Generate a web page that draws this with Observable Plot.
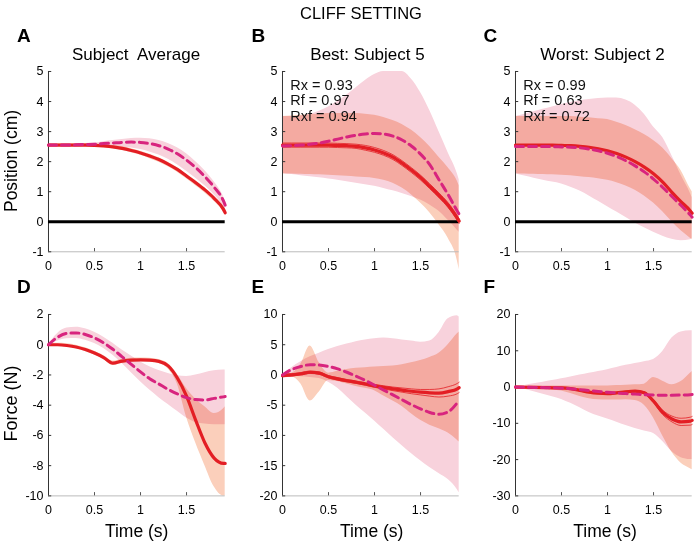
<!DOCTYPE html>
<html><head><meta charset="utf-8">
<script src="https://cdn.jsdelivr.net/npm/d3@7"></script>
<script src="https://cdn.jsdelivr.net/npm/@observablehq/plot@0.6"></script>
<style>
body{margin:0;background:#fff;}
#fig{position:relative;width:697px;height:545px;overflow:hidden;font-family:"Liberation Sans",Arial,sans-serif;background:#fff;}
#fig .panel{position:absolute;}
#fig svg g[aria-label="area"]{mix-blend-mode:multiply;}
#overlay{position:absolute;left:0;top:0;}
</style></head><body><div id="fig"></div>
<script>
// ---------- data ----------
const T = [0,0.1,0.2,0.3,0.4,0.5,0.6,0.7,0.8,0.9,1.0,1.1,1.2,1.3,1.4,1.5,1.6,1.7,1.8,1.9,1.92];
const xTicks = [0, 0.5, 1, 1.5];
const posTicks = [-1,0,1,2,3,4,5];
const dTicks = [-10,-8,-6,-4,-2,0,2];
const eTicks = [-20,-15,-10,-5,0,5,10];
const fTicks = [-30,-20,-10,0,10,20];

const title = "CLIFF SETTING";
const panelLetters = ["A","B","C","D","E","F"];
const subtitles = ["Subject  Average", "Best: Subject 5", "Worst: Subject 2"];
const yTitles = ["Position (cm)", "Force (N)"];
const xTitle = "Time (s)";
const bLabels = ["Rx = 0.93","Rf = 0.97","Rxf = 0.94"];
const cLabels = ["Rx = 0.99","Rf = 0.63","Rxf = 0.72"];

// Panel A
const aSolid  = [2.55,2.55,2.55,2.55,2.55,2.54,2.52,2.49,2.44,2.37,2.29,2.19,2.07,1.92,1.74,1.52,1.3,1.06,0.78,0.42,0.3];
const aDashed = [2.55,2.55,2.55,2.56,2.57,2.58,2.6,2.62,2.64,2.65,2.64,2.6,2.53,2.42,2.26,2.05,1.8,1.5,1.15,0.7,0.55];
const aPinkHi = [2.57,2.57,2.57,2.58,2.6,2.62,2.66,2.7,2.74,2.77,2.78,2.76,2.7,2.6,2.46,2.26,2.0,1.7,1.33,0.85,0.7];
const aPinkLo = [2.53,2.53,2.53,2.54,2.54,2.54,2.53,2.52,2.49,2.45,2.4,2.32,2.22,2.08,1.9,1.68,1.45,1.2,0.9,0.5,0.38];
const aPeachHi = [2.6,2.6,2.6,2.6,2.6,2.59,2.57,2.54,2.5,2.43,2.35,2.25,2.13,1.98,1.8,1.58,1.36,1.12,0.84,0.48,0.36];
const aPeachLo = [2.5,2.5,2.5,2.5,2.5,2.49,2.46,2.43,2.38,2.3,2.21,2.1,1.98,1.83,1.65,1.43,1.2,0.96,0.68,0.33,0.22];

// Panel B
const bSolid   = [2.55,2.55,2.55,2.55,2.55,2.55,2.54,2.53,2.51,2.46,2.39,2.29,2.15,1.95,1.72,1.47,1.18,0.88,0.55,0.12,0.02];
const bSolidHi = [2.62,2.62,2.62,2.62,2.62,2.62,2.61,2.6,2.58,2.54,2.47,2.37,2.23,2.03,1.8,1.55,1.26,0.96,0.63,0.2,0.1];
const bSolidLo = [2.48,2.48,2.48,2.48,2.48,2.48,2.47,2.46,2.44,2.38,2.31,2.21,2.07,1.87,1.64,1.39,1.1,0.8,0.47,0.04,-0.06];
const bDashed  = [2.52,2.53,2.55,2.58,2.62,2.68,2.75,2.82,2.88,2.92,2.94,2.92,2.85,2.72,2.52,2.25,1.9,1.4,0.9,0.35,0.25];
const bPinkHi  = [3.5,3.5,3.52,3.58,3.68,3.82,4.0,4.22,4.46,4.7,4.9,5.0,5.0,5.0,4.75,4.3,3.7,3.0,2.3,1.6,1.4];
const bPinkLo  = [1.6,1.57,1.53,1.5,1.46,1.42,1.38,1.33,1.28,1.23,1.18,1.11,1.03,0.94,0.84,0.72,0.56,0.35,0.05,-0.28,-0.35];
const bPeachHi = [3.5,3.52,3.54,3.56,3.58,3.6,3.6,3.6,3.6,3.58,3.54,3.47,3.37,3.24,3.05,2.8,2.5,2.15,1.8,1.35,1.2];
const bPeachLo = [1.6,1.59,1.58,1.57,1.56,1.55,1.53,1.51,1.49,1.47,1.44,1.38,1.28,1.12,0.9,0.62,0.3,-0.1,-0.55,-1.3,-1.6];

// Panel C
const cSolid   = [2.55,2.55,2.55,2.55,2.55,2.54,2.53,2.51,2.48,2.43,2.36,2.27,2.15,2.0,1.82,1.6,1.32,0.98,0.66,0.36,0.28];
const cDashed  = [2.5,2.5,2.5,2.5,2.5,2.49,2.48,2.46,2.42,2.36,2.28,2.17,2.03,1.86,1.66,1.42,1.14,0.84,0.54,0.22,0.15];
const cPinkHi  = [3.5,3.58,3.66,3.74,3.82,3.9,3.97,4.03,4.07,4.1,4.12,4.12,4.05,3.88,3.58,3.15,2.8,2.2,1.55,0.95,0.8];
const cPinkLo  = [1.6,1.52,1.45,1.38,1.32,1.26,1.15,1.02,0.86,0.68,0.5,0.32,0.14,-0.04,-0.2,-0.35,-0.48,-0.58,-0.63,-0.6,-0.55];
const cPeachHi = [3.5,3.5,3.5,3.5,3.5,3.5,3.5,3.48,3.46,3.43,3.4,3.31,3.2,3.06,2.9,2.7,2.45,2.1,1.7,1.1,1.0];
const cPeachLo = [1.6,1.59,1.58,1.57,1.56,1.55,1.53,1.5,1.47,1.43,1.38,1.3,1.19,1.05,0.86,0.62,0.33,0.0,-0.3,-0.55,-0.6];

// Panel D
const dSolid   = [0,0,-0.05,-0.15,-0.32,-0.55,-0.85,-1.22,-1.08,-1.02,-1.0,-1.02,-1.1,-1.4,-2.2,-3.4,-5.0,-6.5,-7.5,-7.85,-7.85];
const dDashed  = [0,0.5,0.75,0.78,0.68,0.45,0.12,-0.3,-0.8,-1.3,-1.8,-2.25,-2.6,-2.95,-3.25,-3.5,-3.63,-3.65,-3.55,-3.45,-3.43];
const dPinkHi  = [0,0.75,1.1,1.15,1.05,0.82,0.5,0.1,-0.35,-0.75,-1.15,-1.45,-1.7,-1.9,-2.05,-2.1,-2.0,-1.85,-1.72,-1.68,-1.68];
const dPinkLo  = [0,0.25,0.4,0.42,0.3,0.08,-0.25,-0.7,-1.25,-1.85,-2.45,-3.0,-3.5,-3.95,-4.4,-4.85,-5.15,-5.25,-5.3,-5.3,-5.3];
const dPeachHi = [0.1,0.1,0.07,-0.03,-0.2,-0.43,-0.72,-1.08,-0.97,-0.9,-0.88,-0.9,-0.98,-1.25,-1.95,-2.9,-3.6,-4.1,-4.55,-4.25,-4.1];
const dPeachLo = [-0.1,-0.1,-0.15,-0.27,-0.45,-0.68,-0.98,-1.38,-1.25,-1.15,-1.13,-1.16,-1.25,-1.6,-2.6,-4.8,-6.5,-8.0,-9.4,-10,-10];

// Panel E
const eSolid   = [-0.1,0.0,0.2,0.45,0.3,-0.3,-0.65,-0.95,-1.2,-1.5,-1.8,-2.05,-2.3,-2.5,-2.7,-2.85,-2.95,-3.0,-2.75,-2.3,-2.1];
const eSolidHi = [0.1,0.2,0.4,0.65,0.5,-0.1,-0.45,-0.75,-1.0,-1.3,-1.55,-1.8,-2.0,-2.15,-2.3,-2.4,-2.4,-2.3,-1.95,-1.4,-1.2];
const eSolidLo = [-0.3,-0.2,0.0,0.25,0.1,-0.5,-0.85,-1.15,-1.4,-1.7,-2.05,-2.3,-2.6,-2.85,-3.1,-3.3,-3.5,-3.65,-3.5,-3.1,-2.9];
const eDashed  = [0,0.9,1.4,1.7,1.65,1.4,1.0,0.45,-0.2,-0.9,-1.7,-2.5,-3.3,-4.1,-4.9,-5.6,-6.2,-6.5,-6.1,-4.6,-4.2];
const ePinkHi  = [0,1.2,2.2,3.0,3.6,4.2,4.7,5.1,5.5,5.8,6.0,6.1,6.0,5.8,5.6,5.4,5.6,7.0,9.3,9.8,9.6];
const ePinkLo  = [0,-0.2,-0.3,-0.4,-0.6,-1.2,-2.2,-3.6,-5.0,-6.3,-7.6,-9.0,-10.4,-11.7,-13.0,-14.2,-15.3,-16.3,-17.3,-19.0,-19.5];
const ePeachHi = [0.2,0.3,1.8,4.8,2.0,0.3,0.6,0.9,1.1,1.2,1.3,1.4,1.5,1.7,2.0,2.4,2.9,3.6,5.0,6.8,7.1];
const ePeachLo = [-0.2,-0.3,-1.5,-4.3,-2.8,-0.9,-1.1,-1.5,-1.9,-2.2,-2.6,-3.5,-4.3,-5.2,-6.4,-7.5,-8.3,-8.9,-9.6,-10.8,-11.1];

// Panel F
const fSolid   = [0,-0.05,-0.1,-0.15,-0.2,-0.25,-0.45,-0.9,-1.4,-1.7,-1.8,-1.6,-1.3,-1.15,-1.6,-3.9,-7.0,-8.8,-9.6,-9.4,-9.2];
const fSolidHi = [0.2,0.15,0.1,0.05,0.0,-0.05,-0.25,-0.7,-1.2,-1.5,-1.6,-1.4,-1.1,-0.95,-1.3,-3.5,-6.4,-8.0,-8.6,-8.3,-8.1];
const fSolidLo = [-0.2,-0.25,-0.3,-0.35,-0.4,-0.45,-0.65,-1.1,-1.6,-1.9,-2.0,-1.8,-1.5,-1.35,-1.9,-4.3,-7.6,-9.6,-10.6,-10.5,-10.3];
const fDashed  = [0,-0.05,-0.1,-0.15,-0.2,-0.3,-0.45,-0.7,-0.95,-1.2,-1.45,-1.65,-1.8,-1.95,-2.1,-2.2,-2.25,-2.25,-2.2,-2.1,-2.05];
const fPinkHi  = [0,0.45,0.9,1.35,1.8,2.3,2.8,3.3,3.8,4.3,4.8,5.4,6.0,6.5,7.0,7.6,9.8,13.5,15.2,15.5,15.5];
const fPinkLo  = [0,-0.6,-1.3,-2.0,-2.7,-3.4,-4.5,-5.7,-7.0,-8.0,-8.8,-9.7,-10.6,-11.4,-12.1,-12.8,-15.0,-17.8,-19.5,-20.0,-20.0];
const fPeachHi = [0.3,0.3,0.3,0.3,0.3,0.3,0.3,0.3,0.3,0.3,0.3,0.4,0.5,0.6,0.8,2.6,1.6,0.6,1.5,3.8,4.3];
const fPeachLo = [-0.3,-0.4,-0.5,-0.6,-0.8,-1.1,-1.8,-2.6,-3.2,-3.5,-3.6,-3.6,-3.5,-3.7,-5.0,-8.5,-13.5,-18.0,-21.0,-22.5,-22.8];

// ---------- styles ----------
const RED = "#e31e24", MAG = "#d8247e", PINK = "#f8d2dc", PEACH = "#fbcfbb";
const FONT = "'Liberation Sans', Arial, sans-serif";

function table(s) {
  return T.map((t, i) => ({
    t, solid: s.solid[i], dashed: s.dashed[i],
    pinkHi: s.pinkHi[i], pinkLo: s.pinkLo[i], peachHi: s.peachHi[i], peachLo: s.peachLo[i],
    thinHi: s.thinHi ? s.thinHi[i] : null, thinLo: s.thinLo ? s.thinLo[i] : null
  }));
}

const fig = document.getElementById("fig");
const ML = 40, MR = 6, MT = 8, MB = 26, XSPAN = 176.7;

function panel(p) {
  const rows = table(p);
  const [ymin, ymax] = p.domain;
  const span = ymax - ymin;
  const innerH = p.yBot - p.yTop;
  const marks = [
    Plot.areaY(rows, {x: "t", y1: "peachLo", y2: "peachHi", fill: PEACH, curve: "monotone-x", mixBlendMode: "multiply"}),
    Plot.areaY(rows, {x: "t", y1: "pinkLo", y2: "pinkHi", fill: PINK, curve: "monotone-x", mixBlendMode: "multiply"}),
    Plot.ruleY([ymin], {stroke: "#bbb", strokeWidth: 1}),
    Plot.ruleX([0], {y1: ymin, y2: ymax, stroke: "#333", strokeWidth: 1}),
    Plot.ruleY(p.ticks, {y: d => d, x1: 0, x2: 0.035, stroke: "#333"}),
    Plot.ruleX(xTicks.filter(d => d > 0), {x: d => d, y1: ymin, y2: ymin + span * 0.018, stroke: "#555"})
  ];
  if (p.zero) marks.push(Plot.ruleY([0], {stroke: "#000", strokeWidth: 3.2}));
  marks.push(Plot.line(rows, {x: "t", y: "solid", stroke: RED, strokeWidth: 3.2, curve: "monotone-x"}));
  if (p.thinHi) {
    marks.push(Plot.line(rows, {x: "t", y: "thinHi", stroke: RED, strokeWidth: 0.8, curve: "monotone-x"}));
    marks.push(Plot.line(rows, {x: "t", y: "thinLo", stroke: RED, strokeWidth: 0.8, curve: "monotone-x"}));
  }
  marks.push(Plot.line(rows, {x: "t", y: "dashed", stroke: MAG, strokeWidth: 3, strokeDasharray: "8,5", curve: "monotone-x"}));
  if (p.labels) {
    marks.push(Plot.text(p.labels, {x: 0.085, y: (d, i) => ymax - span * (0.075 + i * 0.087), text: d => d,
      textAnchor: "start", fontSize: 14.5, fill: "#111", fontFamily: FONT}));
  }
  const chart = Plot.plot({
    width: XSPAN + ML + MR, height: innerH + MT + MB,
    marginLeft: ML, marginRight: MR, marginTop: MT, marginBottom: MB,
    style: {fontFamily: FONT, fontSize: "12.5px", overflow: "visible", background: "transparent", color: "#000"},
    x: {domain: [0, 1.92], ticks: xTicks, tickFormat: d => String(d), tickSize: 0, tickPadding: 9, label: null},
    y: {domain: [ymin, ymax], ticks: p.ticks, tickFormat: d => String(d), tickSize: 0, tickPadding: 5, label: null},
    marks
  });
  chart.classList.add("panel");
  chart.style.left = (p.x0 - ML) + "px";
  chart.style.top = (p.yTop - MT) + "px";
  fig.appendChild(chart);
}

const topY = [70.7, 251], botY = [314.3, 495.7];
const X0 = [48, 281.7, 515];

panel({x0: X0[0], yTop: topY[0], yBot: topY[1], domain: [-1, 5], ticks: posTicks, zero: true,
  solid: aSolid, dashed: aDashed, pinkHi: aPinkHi, pinkLo: aPinkLo, peachHi: aPeachHi, peachLo: aPeachLo});
panel({x0: X0[1], yTop: topY[0], yBot: topY[1], domain: [-1, 5], ticks: posTicks, zero: true, labels: bLabels,
  solid: bSolid, dashed: bDashed, pinkHi: bPinkHi, pinkLo: bPinkLo, peachHi: bPeachHi, peachLo: bPeachLo, thinHi: bSolidHi, thinLo: bSolidLo});
panel({x0: X0[2], yTop: topY[0], yBot: topY[1], domain: [-1, 5], ticks: posTicks, zero: true, labels: cLabels,
  solid: cSolid, dashed: cDashed, pinkHi: cPinkHi, pinkLo: cPinkLo, peachHi: cPeachHi, peachLo: cPeachLo});
panel({x0: X0[0], yTop: botY[0], yBot: botY[1], domain: [-10, 2], ticks: dTicks,
  solid: dSolid, dashed: dDashed, pinkHi: dPinkHi, pinkLo: dPinkLo, peachHi: dPeachHi, peachLo: dPeachLo});
panel({x0: X0[1], yTop: botY[0], yBot: botY[1], domain: [-20, 10], ticks: eTicks,
  solid: eSolid, dashed: eDashed, pinkHi: ePinkHi, pinkLo: ePinkLo, peachHi: ePeachHi, peachLo: ePeachLo, thinHi: eSolidHi, thinLo: eSolidLo});
panel({x0: X0[2], yTop: botY[0], yBot: botY[1], domain: [-30, 20], ticks: fTicks,
  solid: fSolid, dashed: fDashed, pinkHi: fPinkHi, pinkLo: fPinkLo, peachHi: fPeachHi, peachLo: fPeachLo, thinHi: fSolidHi, thinLo: fSolidLo});

// ---------- text overlay ----------
const NS = "http://www.w3.org/2000/svg";
const ov = document.createElementNS(NS, "svg");
ov.setAttribute("id", "overlay");
ov.setAttribute("width", 697); ov.setAttribute("height", 545);
ov.style.fontFamily = FONT;
function txt(s, x, y, opts = {}) {
  const e = document.createElementNS(NS, "text");
  e.textContent = s;
  e.setAttribute("x", x); e.setAttribute("y", y);
  e.setAttribute("font-size", opts.size || 12);
  e.setAttribute("text-anchor", opts.anchor || "start");
  if (opts.bold) e.setAttribute("font-weight", "bold");
  if (opts.rotate) e.setAttribute("transform", `rotate(-90 ${x} ${y})`);
  e.setAttribute("fill", "#000");
  e.style.whiteSpace = "pre";
  ov.appendChild(e);
}
txt(title, 361, 19, {size: 16.5, anchor: "middle"});
const letterX = [17, 251.5, 483.5];
panelLetters.forEach((L, i) => txt(L, letterX[i % 3], i < 3 ? 41.7 : 293.3, {size: 19, bold: true}));
const subX = [136, 367.5, 602.5];
subtitles.forEach((s, i) => txt(s, subX[i], 59.5, {size: 17, anchor: "middle"}));
txt(yTitles[0], 16.5, 161, {size: 17.5, anchor: "middle", rotate: true});
txt(yTitles[1], 16.5, 403.5, {size: 18, anchor: "middle", rotate: true});
[136.7, 371.7, 605].forEach(x => txt(xTitle, x, 537, {size: 17.5, anchor: "middle"}));
fig.appendChild(ov);
</script>
</body></html>
